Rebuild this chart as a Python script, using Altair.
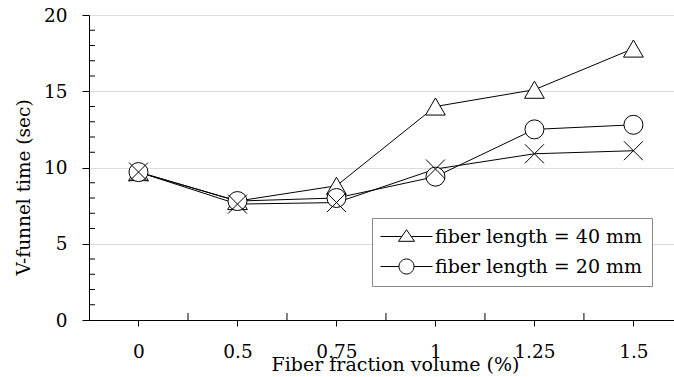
import altair as alt
import pandas as pd

# ---- data ----
fractions = ["0", "0.5", "0.75", "1", "1.25", "1.5"]
len40 = [9.7, 7.8, 8.8, 14.0, 15.1, 17.8]
len20 = [9.7, 7.8, 8.0, 9.4, 12.5, 12.8]
plain = [9.7, 7.6, 7.7, 9.9, 10.9, 11.1]
series_names = ["fiber length = 40 mm", "fiber length = 20 mm", "no fiber label"]

y_major = [0, 5, 10, 15, 20]
y_minor = [v for v in range(1, 20) if v % 5 != 0]
x_minor = [0.5, 1.5, 2.5, 3.5, 4.5]

rows = []
for name, vals in zip(series_names, [len40, len20, plain]):
    for i, (lab, v) in enumerate(zip(fractions, vals)):
        rows.append({"idx": i, "frac": lab, "value": v, "series": name})
df = pd.DataFrame(rows)

FONT = "DejaVu Serif"
LFS = 18.5   # tick labels
TFS = 19     # titles / legend
W, H = 585, 305

x_scale = alt.Scale(domain=[-0.5, 5.41], nice=False, zero=False)
y_scale = alt.Scale(domain=[0, 20], nice=False, zero=True)

label_expr = "[" + ",".join("'%s'" % f for f in fractions) + "][datum.value]"

x_axis = alt.Axis(
    values=list(range(len(fractions))), labelExpr=label_expr, tickSize=6,
    tickColor="black", domainColor="black", grid=False,
    labelFont=FONT, labelFontSize=LFS, labelColor="black",
    labelBaseline="alphabetic", labelPadding=31,
    title="Fiber fraction volume (%)", titleFont=FONT, titleFontSize=TFS,
    titleFontWeight="normal", titleColor="black", titleX=306, titleY=50,
    titleBaseline="alphabetic",
)
y_axis = alt.Axis(
    values=y_major, tickSize=7, tickColor="black", domainColor="black",
    grid=True, gridColor="#dcdcdc",
    labelFont=FONT, labelFontSize=LFS, labelColor="black", labelPadding=15,
    title="V-funnel time (sec)", titleFont=FONT, titleFontSize=18.5,
    titleFontWeight="normal", titleColor="black", titleX=-60, titleY=172,
    titleBaseline="alphabetic",
)

base = alt.Chart(df)

lines = base.mark_line(color="black", strokeWidth=1).encode(
    x=alt.X("idx:Q", scale=x_scale, axis=x_axis),
    y=alt.Y("value:Q", scale=y_scale, axis=y_axis),
    detail="series:N",
)

tri = base.transform_filter(alt.datum.series == series_names[0]).mark_point(
    shape="triangle-up", size=390, filled=True, fill="white", stroke="black",
    strokeWidth=1, opacity=1,
).encode(x=alt.X("idx:Q", scale=x_scale), y=alt.Y("value:Q", scale=y_scale))

circ = base.transform_filter(alt.datum.series == series_names[1]).mark_point(
    shape="circle", size=361, filled=True, fill="white", stroke="black",
    strokeWidth=1, opacity=1,
).encode(x=alt.X("idx:Q", scale=x_scale), y=alt.Y("value:Q", scale=y_scale))

cross = base.transform_filter(alt.datum.series == series_names[2]).mark_point(
    shape="M-1,-1L1,1M-1,1L1,-1", size=361, filled=False, stroke="black",
    strokeWidth=1, opacity=1,
).encode(x=alt.X("idx:Q", scale=x_scale), y=alt.Y("value:Q", scale=y_scale))

# legend symbols: marker with line stubs
tri_sym = "M-3.25,0H-0.59M0.59,0H3.25M0,-0.85L1,0.6L-1,0.6Z"
circ_sym = ("M-3.25,0H-0.94M0.94,0H3.25"
            "M0.94,0A0.94,0.94 0 1,1 -0.94,0A0.94,0.94 0 1,1 0.94,0Z")

legend_layer = base.transform_filter("false").mark_point(
    filled=False, stroke="black", strokeWidth=1, opacity=1
).encode(
    x=alt.X("idx:Q", scale=x_scale),
    y=alt.Y("value:Q", scale=y_scale),
    shape=alt.Shape(
        "series:N",
        scale=alt.Scale(domain=series_names[:2], range=[tri_sym, circ_sym]),
        legend=alt.Legend(
            title=None, orient="none", legendX=283, legendY=203,
            fillColor="white", strokeColor="#888888", padding=9,
            labelFont=FONT, labelFontSize=TFS, labelColor="black",
            labelLimit=0, symbolOffset=16, labelOffset=19,
            symbolSize=256, symbolStrokeWidth=1,
            symbolStrokeColor="black", rowPadding=9,
        ),
    ),
)

ymin = alt.Chart(pd.DataFrame({"pos": y_minor})).mark_rule(
    color="black", strokeWidth=1
).encode(y=alt.Y("pos:Q", scale=y_scale), x=alt.value(0), x2=alt.value(6))

xmin = alt.Chart(pd.DataFrame({"pos": x_minor})).mark_rule(
    color="black", strokeWidth=1
).encode(x=alt.X("pos:Q", scale=x_scale), y=alt.value(H - 7), y2=alt.value(H))

chart = alt.layer(ymin, xmin, lines, tri, circ, cross, legend_layer).properties(
    width=W, height=H,
    autosize=alt.AutoSizeParams(type="none"),
    padding={"left": 89, "top": 15, "right": 0, "bottom": 57},
).configure_view(stroke=None).configure(background="white")

chart.save("out.html", embed_options={"renderer": "svg", "actions": False})
